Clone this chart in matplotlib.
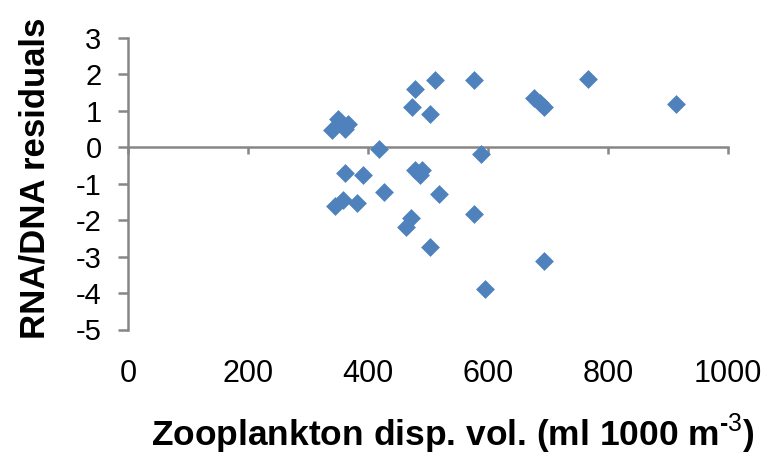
import matplotlib
matplotlib.use("Agg")
import matplotlib.pyplot as plt

# zooplankton displacement volume vs RNA/DNA residuals
zoo_vol = [512, 479, 577, 767, 913, 677, 694, 686, 474, 504,
           350, 367, 340, 362, 355, 418, 589, 361, 392, 478,
           490, 486, 426, 519, 345, 358, 382, 576, 471, 464,
           503, 693, 595]
rna_dna_resid = [1.85, 1.61, 1.84, 1.87, 1.20, 1.34, 1.12, 1.22, 1.11, 0.91,
                 0.79, 0.63, 0.47, 0.50, 0.66, -0.04, -0.17, -0.70, -0.77, -0.62,
                 -0.62, -0.77, -1.23, -1.29, -1.61, -1.45, -1.52, -1.84, -1.93, -2.18,
                 -2.73, -3.12, -3.90]

x_ticks = [0, 200, 400, 600, 800, 1000]
y_ticks = [-5, -4, -3, -2, -1, 0, 1, 2, 3]

plt.rcParams['font.family'] = ['Liberation Sans', 'DejaVu Sans']
plt.rcParams['axes.unicode_minus'] = False
plt.rcParams['mathtext.fontset'] = 'custom'
plt.rcParams['mathtext.rm'] = 'Liberation Sans'
plt.rcParams['mathtext.bf'] = 'Liberation Sans:bold'

axis_grey = '#868686'

fig = plt.figure(figsize=(7.74, 4.57), dpi=100)
ax = fig.add_axes([128 / 774, 1 - 329.5 / 457, 600 / 774, 291.5 / 457])

ax.scatter(zoo_vol, rna_dna_resid, marker='D', s=92, color='#4F81BD',
           linewidths=0, zorder=3, clip_on=False)

ax.set_xlim(0, 1000)
ax.set_ylim(-5, 3)

# axis line crosses at y = 0, labels stay at the bottom
for side in ['top', 'right']:
    ax.spines[side].set_visible(False)
ax.spines['bottom'].set_position(('data', 0))
ax.spines['bottom'].set_color(axis_grey)
ax.spines['bottom'].set_linewidth(1.8)
ax.spines['left'].set_color(axis_grey)
ax.spines['left'].set_linewidth(1.8)

ax.set_xticks(x_ticks)
ax.set_yticks(y_ticks)
ax.tick_params(axis='x', direction='out', length=5, width=1.8, color=axis_grey, labelbottom=False)
ax.tick_params(axis='y', direction='out', length=7, width=1.8, color=axis_grey,
               labelsize=21, pad=12)

sec = ax.secondary_xaxis(-0.10)
sec.spines['bottom'].set_visible(False)
sec.set_xticks(x_ticks)
sec.tick_params(length=0, labelsize=22, pad=0)

ax.set_xlabel('Zooplankton disp. vol. (ml 1000 m$^{\\mathregular{\u2010}3}$)',
              fontsize=25.5, fontweight='bold')
ax.xaxis.set_label_coords(0.542, -0.282)
ax.set_ylabel('RNA/DNA residuals', fontsize=25, fontweight='bold')
ax.yaxis.set_label_coords(-0.127, 0.52)

fig.savefig('out.png', dpi=100)
